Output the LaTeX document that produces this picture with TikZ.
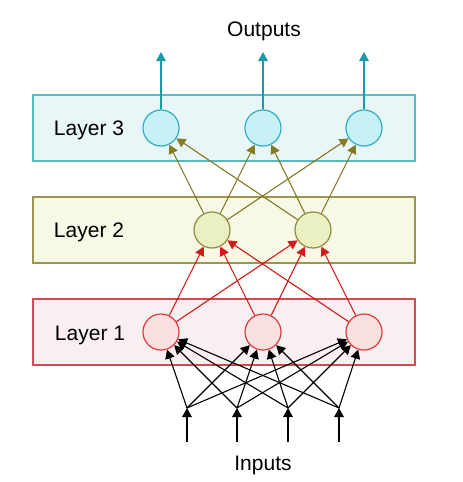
\documentclass[tikz,border=0pt]{standalone}
\usepackage{fontspec}
\setmainfont{Liberation Sans}
\usetikzlibrary{arrows.meta}
\definecolor{topbox}{HTML}{E8F6F8}
\definecolor{topline}{HTML}{55B9C6}
\definecolor{topfill}{HTML}{C8F0F7}
\definecolor{topdraw}{HTML}{2FAEC0}
\definecolor{toparrow}{HTML}{1A9BAA}
\definecolor{midbox}{HTML}{F8F8E6}
\definecolor{midline}{HTML}{9B9550}
\definecolor{midfill}{HTML}{EBF0C3}
\definecolor{middraw}{HTML}{8E8A3E}
\definecolor{midarrow}{HTML}{857B23}
\definecolor{lowbox}{HTML}{F9EFF0}
\definecolor{lowline}{HTML}{D34A50}
\definecolor{lowfill}{HTML}{FADFE0}
\definecolor{lowdraw}{HTML}{DA3D3D}
\definecolor{lowarrow}{HTML}{D21B1B}
\begin{document}
\begin{tikzpicture}[x=0.5pt,y=-0.5pt,font=\fontsize{10.5}{12}\selectfont,
neuron/.style={circle,draw,minimum size=18pt,inner sep=0pt,line width=0.6pt},
layerbox/.style={draw,line width=0.55pt},
conn/.style={line width=0.55pt,-{Triangle[length=4.5pt,width=4.8pt]}}]
\useasboundingbox (0,0) rectangle (462,482);
% layers
\draw[layerbox,draw=topline,fill=topbox] (33,95) rectangle (415,161);
\draw[layerbox,draw=midline,fill=midbox] (33,197) rectangle (415,263);
\draw[layerbox,draw=lowline,fill=lowbox] (33,299) rectangle (415,365);
\node(lab3) at (89,130) {Layer 3};
\node(lab2) at (89,232) {Layer 2};
\node(lab1) at (90,335) {Layer 1};
% neurons
\node[neuron,draw=topdraw,fill=topfill](c1) at (161,128) {};
\node[neuron,draw=topdraw,fill=topfill](c2) at (263,128) {};
\node[neuron,draw=topdraw,fill=topfill](c3) at (364,128) {};
\node[neuron,draw=middraw,fill=midfill](b1) at (212,230) {};
\node[neuron,draw=middraw,fill=midfill](b2) at (313,230) {};
\node[neuron,draw=lowdraw,fill=lowfill](a1) at (161,332) {};
\node[neuron,draw=lowdraw,fill=lowfill](a2) at (263,332) {};
\node[neuron,draw=lowdraw,fill=lowfill](a3) at (364,332) {};
% inputs and outputs
\node(outputs) at (264,31) {Outputs};
\node(inputs) at (263,465) {Inputs};
\coordinate(out1) at (161,52);
\coordinate(out2) at (263,52);
\coordinate(out3) at (364,52);
\coordinate(in1) at (187,408);
\coordinate(in2) at (237,408);
\coordinate(in3) at (288,408);
\coordinate(in4) at (339,408);
\coordinate(inb1) at (187,442);
\coordinate(inb2) at (237,442);
\coordinate(inb3) at (288,442);
\coordinate(inb4) at (339,442);
% connections
\foreach \i in {1,...,4}{
    \draw[conn] (inb\i) -- (in\i);
    \foreach \j in {1,2,3} \draw[conn] (in\i) -- (a\j);
}
\foreach \i in {1,2,3}{
    \foreach \j in {1,2} \draw[conn,draw=lowarrow,fill=lowarrow] (a\i) -- (b\j);
    \foreach \j in {1,2} \draw[conn,draw=midarrow,fill=midarrow] (b\j) -- (c\i);
    \draw[conn,draw=toparrow,fill=toparrow] (c\i) -- (out\i);
}
\end{tikzpicture}
\end{document}
